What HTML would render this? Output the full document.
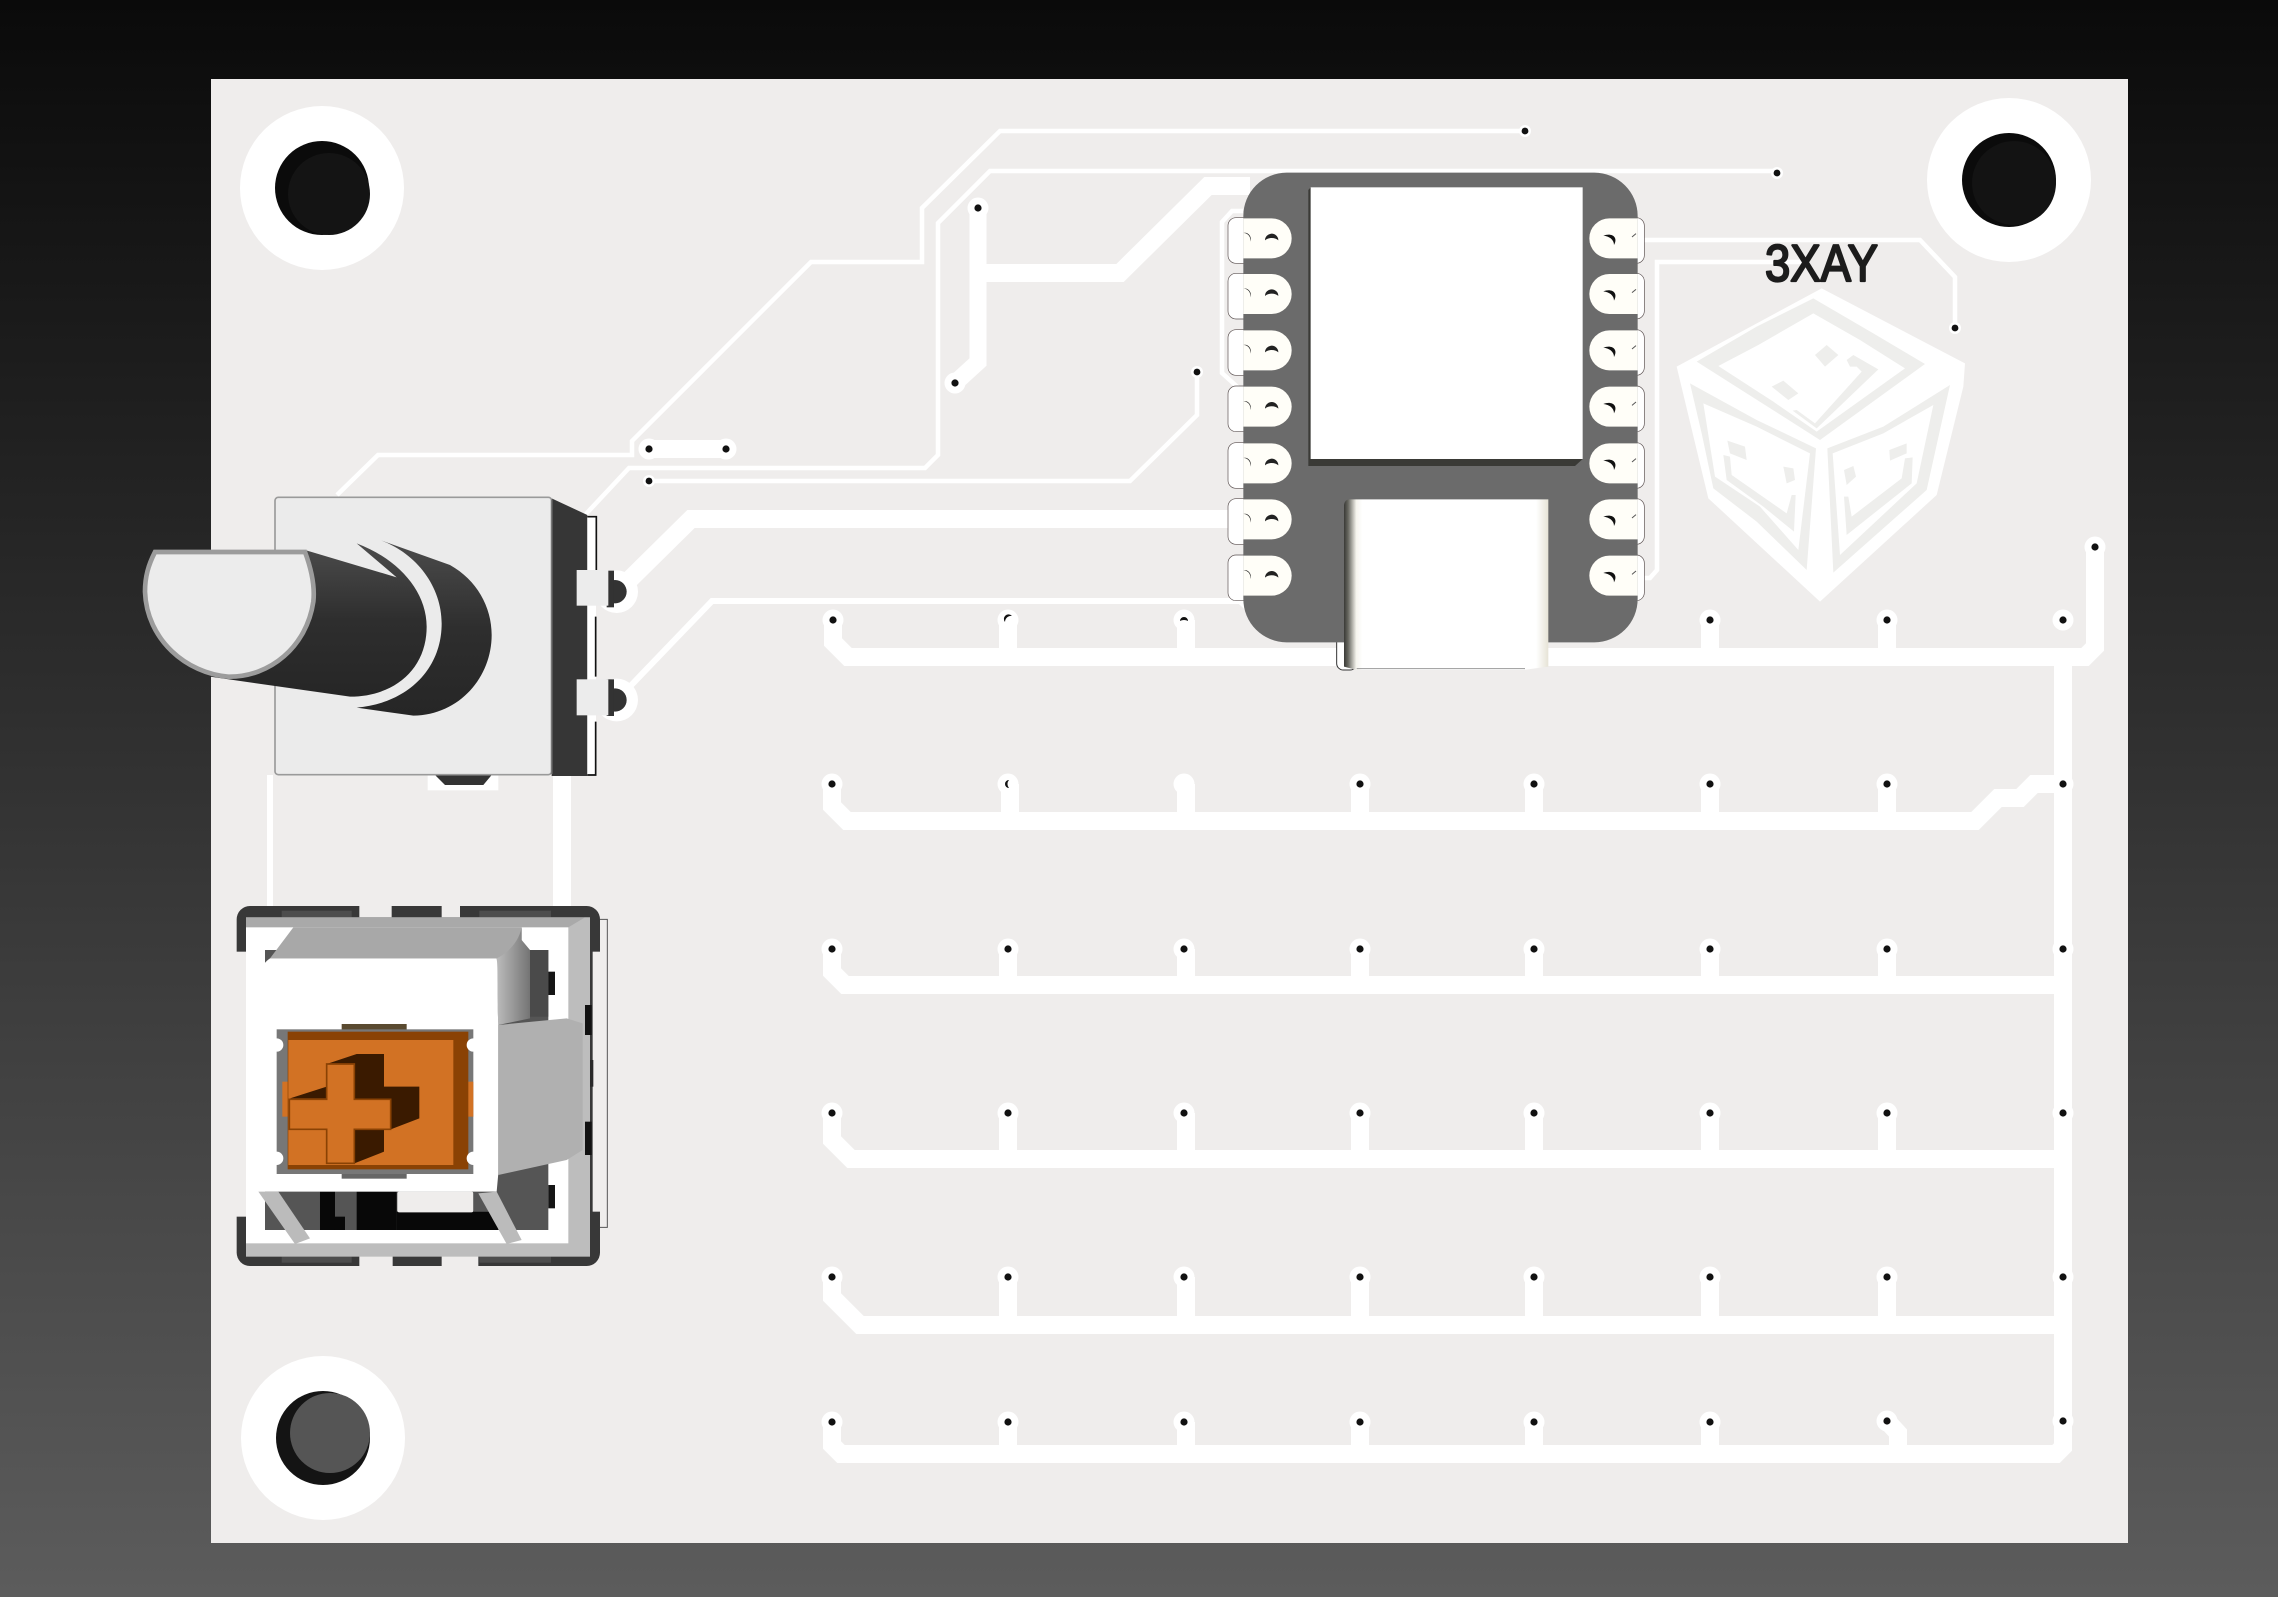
<!DOCTYPE html>
<html lang="en">
<head>
<meta charset="utf-8">
<title>PCB render</title>
<style>
html,body{margin:0;padding:0;background:#000;}
svg{display:block;}
text{font-family:"Liberation Sans",sans-serif;}
</style>
</head>
<body>
<svg xmlns="http://www.w3.org/2000/svg" width="2278" height="1597" viewBox="0 0 2278 1597">
<defs>
<linearGradient id="bgGrad" x1="0" y1="0" x2="0" y2="1"><stop offset="0" stop-color="#0a0a0a"/><stop offset="1" stop-color="#5c5c5c"/></linearGradient>
<linearGradient id="shaftGrad" x1="0" y1="0" x2="0" y2="1"><stop offset="0" stop-color="#4c4c4c"/><stop offset="0.5" stop-color="#2e2e2e"/><stop offset="1" stop-color="#262626"/></linearGradient>
<linearGradient id="usbGrad" x1="0" y1="0" x2="1" y2="0"><stop offset="0" stop-color="#3a3a36"/><stop offset="0.02" stop-color="#66665f"/><stop offset="0.06" stop-color="#f6f5ee"/><stop offset="0.09" stop-color="#ffffff"/><stop offset="0.94" stop-color="#ffffff"/><stop offset="1" stop-color="#e6e3d6"/></linearGradient>
<linearGradient id="capShade" gradientUnits="userSpaceOnUse" x1="835" y1="0" x2="930" y2="0"><stop offset="0" stop-color="#b8b8b8"/><stop offset="1" stop-color="#747474"/></linearGradient>
<g id="via"><circle r="10.5" fill="#fff"/><circle r="3.6" fill="#111"/></g>
<g id="via-sm"><circle r="6" fill="#fff"/><circle r="3.4" fill="#111"/></g>
<g id="pad-l">
<rect x="54" y="-60" width="70" height="137" rx="24" fill="#fff" stroke="#5a5050" stroke-width="2"/>
</g>
<g id="pad-l-top">
<path d="M100,-58H185A60,60 0 0 1 185,62H100Z" fill="#fffef8"/>
<path d="M165,8A20,20 0 0 1 205,8A24,16 0 0 0 165,8Z" fill="#222"/>
<path d="M100,-14A18,18 0 0 1 120,12A20,20 0 0 0 100,-14Z" fill="#222"/>
</g>
<g id="pad-r">
<rect x="1233" y="-60" width="70" height="137" rx="24" fill="#fff" stroke="#5a5050" stroke-width="2"/>
</g>
<g id="pad-r-top">
<path d="M1283,-58H1198A60,60 0 0 0 1198,62H1283Z" fill="#fffef8"/>
<path d="M1180,-6C1205,-16 1226,-2 1212,22C1212,6 1198,-4 1180,-6Z" fill="#111"/>
<path d="M1266,-2L1278,-12" stroke="#555" stroke-width="3"/>
</g>
</defs>

<rect width="2278" height="1597" fill="url(#bgGrad)"/>
<rect x="211" y="79" width="1917" height="1464" fill="#efedec"/>

<g fill="none" stroke="#fff" stroke-linejoin="miter">
<g stroke-width="4.5">
<path d="M337,495L378,455H632V441L811,262H922V208L1000,131H1525"/>
<path d="M585,515L629,468H925L938,455V223L990,171H1777"/>
<path d="M649,481H1130L1197,415V372"/>
<path d="M1243,211H1232L1222,222V373L1243,392"/>
<path d="M1640,240H1920L1955,277V328"/>
<path d="M1810,262H1657V570L1650,578H1640"/>
<path d="M270,775V906" stroke-width="6"/>
<path d="M617,700L712,601H1240L1258,618" stroke-width="6"/>
</g>
<g stroke-width="18">
<path d="M978,208V362L955,383" stroke-width="17"/>
<path d="M978,273H1120L1208,186H1250"/>
<path d="M649,449H726"/>
<path d="M617,592L691,519H1250"/>
<path d="M562,775V906"/>
<path d="M833,620V642L848,657H2085L2095,647V547"/>
<path d="M832,784V806L847,821H1975L1998,798H2020L2034,784H2063"/>
<path d="M832,949V972L845,985H2063"/>
<path d="M832,1113V1140L851,1159H2063"/>
<path d="M832,1277V1297L860,1325H2063"/>
<path d="M832,1422V1445L841,1454H2056L2063,1447V657"/>
<path d="M1008,620V657M1186,620V657M1710,620V657M1887,620V657"/>
<path d="M1010,784V821M1186,784V821M1360,784V821M1534,784V821M1710,784V821M1887,784V821"/>
<path d="M1008,949V985M1186,949V985M1360,949V985M1534,949V985M1710,949V985M1887,949V985"/>
<path d="M1008,1113V1159M1186,1113V1159M1360,1113V1159M1534,1113V1159M1710,1113V1159M1887,1113V1159"/>
<path d="M1008,1277V1325M1186,1277V1325M1360,1277V1325M1534,1277V1325M1710,1277V1325M1887,1277V1325"/>
<path d="M1008,1422V1454M1186,1422V1454M1360,1422V1454M1534,1422V1454M1710,1422V1454M1887,1421L1898,1433V1454"/>
</g>
</g>

<g>
<g>
<circle cx="322" cy="188" r="82" fill="#fff"/><circle cx="322" cy="188" r="47" fill="#0b0b0b"/><circle cx="329" cy="194" r="41" fill="#141414"/></g>
<g>
<circle cx="2009" cy="180" r="82" fill="#fff"/><circle cx="2009" cy="180" r="47" fill="#0b0b0b"/><circle cx="2014" cy="183" r="42" fill="#131313"/></g>
<g>
<circle cx="323" cy="1438" r="82" fill="#fff"/><circle cx="323" cy="1438" r="47" fill="#141414"/><circle cx="330" cy="1433" r="40" fill="#555"/></g>
</g>

<g>
<use href="#via" x="978" y="208"/>
<use href="#via" x="955" y="383"/>
<use href="#via" x="649" y="449"/>
<use href="#via" x="726" y="449"/>
<use href="#via-sm" x="649" y="481"/>
<use href="#via-sm" x="1197" y="372"/>
<use href="#via-sm" x="1525" y="131"/>
<use href="#via-sm" x="1777" y="173"/>
<use href="#via-sm" x="1955" y="328"/>
<use href="#via" x="2095" y="547"/>
<use href="#via" x="833" y="620"/>
<g><circle cx="1008" cy="620" r="10.5" fill="#fff"/><path d="M1005,622A4,4 0 0 1 1012,616A6,6 0 0 0 1005,622Z" fill="#111"/></g>
<g><circle cx="1184" cy="620" r="10.5" fill="#fff"/><path d="M1180,621A4,4 0 0 1 1188,621A6,4 0 0 0 1180,621Z" fill="#111"/></g>
<use href="#via" x="1710" y="620"/><use href="#via" x="1887" y="620"/><use href="#via" x="2063" y="620"/>
<use href="#via" x="832" y="784"/>
<g><circle cx="1008" cy="784" r="10.5" fill="#fff"/><path d="M1009,780A4,4 0 0 0 1009,788A6,6 0 0 1 1009,780Z" fill="#111"/></g>
<circle cx="1184" cy="784" r="10.5" fill="#fff"/><use href="#via" x="1360" y="784"/><use href="#via" x="1534" y="784"/><use href="#via" x="1710" y="784"/><use href="#via" x="1887" y="784"/><use href="#via" x="2063" y="784"/>
<use href="#via" x="832" y="949"/><use href="#via" x="1008" y="949"/><use href="#via" x="1184" y="949"/><use href="#via" x="1360" y="949"/><use href="#via" x="1534" y="949"/><use href="#via" x="1710" y="949"/><use href="#via" x="1887" y="949"/><use href="#via" x="2063" y="949"/>
<use href="#via" x="832" y="1113"/><use href="#via" x="1008" y="1113"/><use href="#via" x="1184" y="1113"/><use href="#via" x="1360" y="1113"/><use href="#via" x="1534" y="1113"/><use href="#via" x="1710" y="1113"/><use href="#via" x="1887" y="1113"/><use href="#via" x="2063" y="1113"/>
<use href="#via" x="832" y="1277"/><use href="#via" x="1008" y="1277"/><use href="#via" x="1184" y="1277"/><use href="#via" x="1360" y="1277"/><use href="#via" x="1534" y="1277"/><use href="#via" x="1710" y="1277"/><use href="#via" x="1887" y="1277"/><use href="#via" x="2063" y="1277"/>
<use href="#via" x="832" y="1422"/><use href="#via" x="1008" y="1422"/><use href="#via" x="1184" y="1422"/><use href="#via" x="1360" y="1422"/><use href="#via" x="1534" y="1422"/><use href="#via" x="1710" y="1422"/><use href="#via" x="1887" y="1421"/><use href="#via" x="2063" y="1421"/>
</g>

<!-- cube logo (crop coordinates) -->
<g transform="translate(1640,220) scale(0.33333)">
<path d="M545,205L975,430L970,500L890,825L540,1145L205,835L110,440Z" fill="#fff"/>
<g fill="#eeeeec">
<path fill-rule="evenodd" d="M520,235L700,340L855,432L540,660L320,520L170,425L350,320ZM520,280L355,375L235,438L400,545L530,635L795,445L660,360Z"/>
<path d="M560,375L595,405L555,440L525,405Z"/>
<path d="M430,482L475,520L445,540L395,500Z"/>
<path d="M620,420L640,405L715,448L530,625L458,572L470,570L525,610L665,455L650,440L630,440Z"/>
<path fill-rule="evenodd" d="M150,490L350,600L528,685L500,1050L350,905L220,805L185,640ZM190,550L225,770L360,860L475,990L510,700L350,620Z"/>
<path d="M262,662L315,680L320,720L270,700Z"/>
<path d="M430,740L460,745L465,780L440,790Z"/>
<path d="M250,705L270,710L275,765L440,880L455,825L467,825L462,935L370,860L260,780Z"/>
<path fill-rule="evenodd" d="M930,495L860,810L580,1058L562,685L730,620ZM880,555L730,640L578,700L600,1005L830,790Z"/>
<path d="M748,690L800,670L800,700L750,722Z"/>
<path d="M612,750L640,738L648,770L620,795Z"/>
<path d="M795,715L818,712L815,790L620,945L612,830L625,830L635,890L785,775Z"/>
</g>
</g>
<text x="1765" y="281" font-size="52" fill="#1c1c1c" stroke="#1c1c1c" stroke-width="2.2" stroke-linejoin="round" textLength="113" lengthAdjust="spacingAndGlyphs">3XAY</text>

<!-- potentiometer -->
<g transform="translate(130,470) scale(0.33333)">
<rect x="893" y="915" width="212" height="46" fill="#fff"/>
<path d="M915,915L945,945H1060L1085,915Z" fill="#333"/>
<polygon points="1265,85 1372,135 1372,918 1265,918" fill="#363636"/>
<rect x="1372" y="140" width="26" height="775" fill="#fff"/>
<path d="M1372,140H1399V300M1397,440V620M1397,755V915H1372" fill="none" stroke="#111" stroke-width="5"/>
<circle cx="1460" cy="365" r="64" fill="#fff"/>
<circle cx="1460" cy="690" r="64" fill="#fff"/>
<circle cx="1455" cy="365" r="35" fill="#333"/>
<circle cx="1455" cy="690" r="35" fill="#333"/>
<rect x="1430" y="302" width="22" height="110" fill="#333"/>
<rect x="1430" y="628" width="22" height="110" fill="#333"/>
<rect x="1340" y="300" width="95" height="107" fill="#ececec"/>
<rect x="1340" y="628" width="95" height="108" fill="#ececec"/>
<rect x="435" y="82" width="830" height="832" rx="10" fill="#ebebeb" stroke="#9a9a9a" stroke-width="5"/>
<path d="M1265,88V912" stroke="#777" stroke-width="5"/>
<path d="M750,210L960,285C1040,330 1085,410 1085,495C1085,620 990,735 850,737L680,713C830,700 935,600 935,460C935,350 860,250 750,210Z" fill="url(#shaftGrad)"/>
<path d="M525,240L800,322L680,220C800,265 890,360 890,470C890,600 790,680 660,680L240,620L300,450Z" fill="url(#shaftGrad)"/>
<path d="M75,246H525C545,300 555,350 550,395C530,530 420,622 295,620C170,610 50,510 45,365C45,320 55,285 75,246Z" fill="#ececec" stroke="#9c9c9c" stroke-width="14"/>
</g>

<!-- key switch -->
<g transform="translate(220,890) scale(0.33333)">
<rect x="50" y="48" width="1090" height="1080" rx="40" fill="#383838"/>
<g fill="#efedec">
<rect x="418" y="40" width="97" height="42"/><rect x="665" y="40" width="55" height="42"/>
<rect x="40" y="185" width="38" height="795"/><rect x="1118" y="185" width="30" height="780"/>
<rect x="418" y="1095" width="100" height="40"/><rect x="665" y="1095" width="110" height="40"/>
</g>
<g fill="#4d4d4d"><rect x="185" y="62" width="210" height="20"/><rect x="778" y="62" width="215" height="20"/><rect x="185" y="1100" width="210" height="18"/><rect x="778" y="1100" width="215" height="18"/></g>
<rect x="78" y="82" width="1032" height="1018" fill="#bdbdbd"/>
<rect x="78" y="82" width="1017" height="32" fill="#a9a9a9"/>
<polygon points="1095,82 1110,82 1110,1100 1045,1060 1045,112" fill="#bdbdbd"/>
<rect x="1095" y="345" width="20" height="90" fill="#111"/><rect x="1095" y="695" width="20" height="100" fill="#111"/><rect x="1110" y="510" width="10" height="80" fill="#2a2a2a"/>
<rect x="78" y="112" width="967" height="948" fill="#fff"/>
<rect x="135" y="180" width="850" height="840" fill="#555"/>
<rect x="930" y="180" width="55" height="200" fill="#4a4a4a"/>
<rect x="985" y="245" width="20" height="70" fill="#151515"/>
<rect x="985" y="885" width="20" height="70" fill="#151515"/>
<rect x="300" y="905" width="45" height="115" fill="#080808"/><rect x="345" y="980" width="30" height="40" fill="#080808"/><rect x="410" y="905" width="120" height="115" fill="#080808"/><rect x="530" y="965" width="305" height="55" fill="#080808"/>
<rect x="532" y="905" width="228" height="62" rx="6" fill="#efedec"/>
<rect x="760" y="905" width="75" height="60" fill="#555"/>
<polygon points="220,112 905,112 905,205 150,205" fill="#a8a8a8"/>
<path d="M905,112V150L930,180V385L835,405C830,300 832,240 830,205C860,190 895,160 905,112Z" fill="url(#capShade)"/>
<path d="M150,205H830C835,240 830,300 835,405V850L830,905L115,905C95,860 80,810 80,800V390L105,385C105,300 110,230 150,205Z" fill="#fff"/>
<path d="M835,405L1040,385L1088,400V780L1040,810L835,855Z" fill="#b0b0b0"/>
<polygon points="115,905 175,905 270,1045 225,1062" fill="#bbb"/>
<polygon points="775,910 830,905 905,1050 860,1062" fill="#bbb"/>
<rect x="365" y="402" width="195" height="18" fill="#5a4a30"/>
<rect x="365" y="850" width="195" height="16" fill="#666"/>
<rect x="170" y="418" width="590" height="434" fill="#777"/>
<rect x="187" y="575" width="18" height="105" fill="#d27224"/><rect x="743" y="575" width="17" height="105" fill="#d27224"/>
<rect x="203" y="425" width="542" height="413" fill="#8a4204"/>
<rect x="205" y="450" width="495" height="375" fill="#d27224"/>
<g fill="#fff"><circle cx="170" cy="465" r="20"/><circle cx="760" cy="465" r="20"/><circle cx="170" cy="805" r="20"/><circle cx="760" cy="805" r="20"/></g>
<path d="M320,522L410,492H492V590H598V685L512,718H492V785L403,820V718H320V625H210L320,590Z" fill="#3a1a00"/>
<path d="M320,522H403V628H512V718H403V820H320V718H208V628H320Z" fill="#d27224" stroke="#8a4204" stroke-width="5"/>
<path d="M1140,88H1162V1012H1140" fill="none" stroke="#555" stroke-width="3"/>
</g>

<!-- XIAO module -->
<g transform="translate(1210,160) scale(0.33333)">
<use href="#pad-l" y="233"/><use href="#pad-l" y="400"/><use href="#pad-l" y="569"/><use href="#pad-l" y="738"/><use href="#pad-l" y="908"/><use href="#pad-l" y="1076"/><use href="#pad-l" y="1245"/>
<use href="#pad-r" y="233"/><use href="#pad-r" y="400"/><use href="#pad-r" y="569"/><use href="#pad-r" y="738"/><use href="#pad-r" y="908"/><use href="#pad-r" y="1076"/><use href="#pad-r" y="1245"/>
<rect x="380" y="1400" width="60" height="130" rx="20" fill="#fff" stroke="#333" stroke-width="3"/>
<rect x="100" y="38" width="1183" height="1409" rx="130" fill="#6b6b6b"/>
<polygon points="295,90 302,82 302,897 1118,897 1095,918 295,918" fill="#3a3a36"/>
<rect x="302" y="82" width="816" height="815" fill="#fff"/>
<path d="M402,1035Q404,1018 420,1018H1015V1520L940,1530H440L402,1520Z" fill="url(#usbGrad)"/>
<path d="M440,1526H945" stroke="#999" stroke-width="3"/>
<use href="#pad-l-top" y="233"/><use href="#pad-l-top" y="400"/><use href="#pad-l-top" y="569"/><use href="#pad-l-top" y="738"/><use href="#pad-l-top" y="908"/><use href="#pad-l-top" y="1076"/><use href="#pad-l-top" y="1245"/>
<use href="#pad-r-top" y="233"/><use href="#pad-r-top" y="400"/><use href="#pad-r-top" y="569"/><use href="#pad-r-top" y="738"/><use href="#pad-r-top" y="908"/><use href="#pad-r-top" y="1076"/><use href="#pad-r-top" y="1245"/>
</g>
</svg>
</body>
</html>
